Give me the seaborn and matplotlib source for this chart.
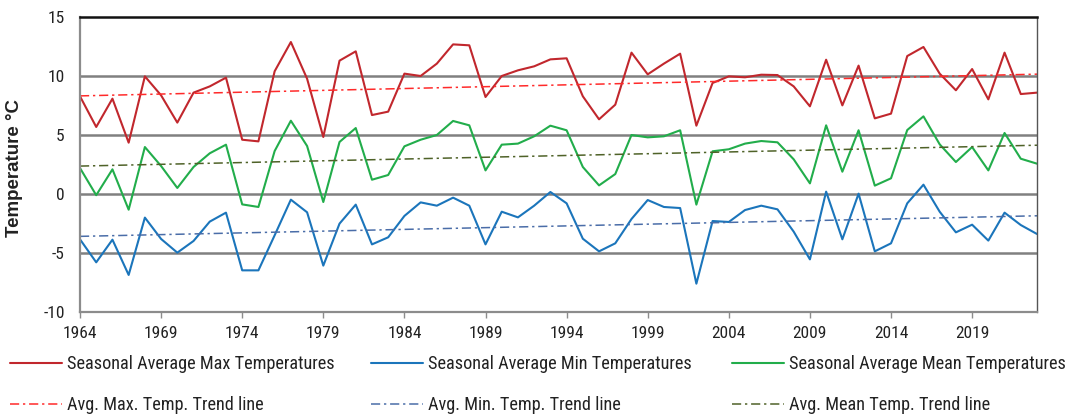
import numpy as np
import pandas as pd
import matplotlib
matplotlib.use("Agg")
import matplotlib.pyplot as plt
from matplotlib import font_manager as fm
from matplotlib.font_manager import FontProperties
import seaborn as sns

years = list(range(1964, 2024))

max_temps = [8.28, 5.68, 8.08, 4.35, 9.97, 8.36, 6.05, 8.59, 9.12, 9.86,
             4.60, 4.46, 10.4, 12.88, 9.77, 4.83, 11.3, 12.09, 6.69, 6.98,
             10.2, 10.0, 11.05, 12.68, 12.6, 8.22, 10.0, 10.48, 10.82, 11.41,
             11.5, 8.28, 6.33, 7.57, 11.98, 10.14, 11.05, 11.89, 5.79, 9.41,
             9.97, 9.89, 10.11, 10.08, 9.12, 7.43, 11.38, 7.51, 10.88, 6.41,
             6.81, 11.69, 12.46, 10.2, 8.79, 10.59, 8.02, 11.98, 8.47, 8.59]

min_temps = [-3.84, -5.79, -3.87, -6.86, -2.0, -3.81, -4.97, -3.98, -2.34, -1.58,
             -6.47, -6.47, -3.5, -0.48, -1.55, -6.07, -2.51, -0.9, -4.27, -3.67,
             -1.86, -0.71, -0.99, -0.31, -0.99, -4.27, -1.5, -1.98, -0.99, 0.17,
             -0.79, -3.79, -4.86, -4.18, -2.12, -0.51, -1.1, -1.19, -7.6, -2.29,
             -2.37, -1.36, -0.99, -1.3, -3.19, -5.54, 0.2, -3.84, 0.03, -4.86,
             -4.18, -0.79, 0.79, -1.5, -3.25, -2.6, -3.95, -1.58, -2.63, -3.39]

mean_temps = [2.2, -0.1, 2.09, -1.33, 3.98, 2.37, 0.51, 2.29, 3.45, 4.18,
              -0.88, -1.1, 3.64, 6.21, 4.07, -0.68, 4.41, 5.59, 1.21, 1.61,
              4.04, 4.6, 5.0, 6.19, 5.82, 2.0, 4.18, 4.27, 4.89, 5.79,
              5.4, 2.29, 0.73, 1.69, 5.0, 4.8, 4.89, 5.4, -0.9, 3.62,
              3.79, 4.27, 4.49, 4.38, 2.94, 0.9, 5.82, 1.89, 5.4, 0.71,
              1.33, 5.42, 6.58, 4.21, 2.71, 3.98, 2.0, 5.17, 2.99, 2.57]

series_labels = ["Seasonal Average Max Temperatures",
                 "Seasonal Average Min Temperatures",
                 "Seasonal Average Mean Temperatures"]
trend_labels = ["Avg. Max. Temp. Trend line",
                "Avg. Min. Temp. Trend line",
                "Avg. Mean Temp. Trend line"]
x_ticks = list(range(1964, 2020, 5))
y_ticks = [-10, -5, 0, 5, 10, 15]

line_colors = ["#C1272D", "#1B75BB", "#22AD4B"]
trend_colors = ["#FF2A2A", "#4A6DA8", "#4F6228"]

sns.set_theme(style="white")
plt.rcParams["font.family"] = ["Liberation Sans", "DejaVu Sans"]


def pick_narrow_font():
    names = {f.name for f in fm.fontManager.ttflist}
    for n in ["Liberation Sans Narrow", "Arial Narrow", "Roboto Condensed",
              "Open Sans Condensed", "Noto Sans Condensed", "DejaVu Sans Condensed"]:
        if n in names:
            return FontProperties(family=n)
    for f in fm.fontManager.ttflist:
        if (str(f.stretch) in ("condensed", "semi-condensed")
                and f.style == "normal" and str(f.weight) in ("400", "normal", "regular")):
            return FontProperties(fname=f.fname)
    return FontProperties(family="Liberation Sans")


df = pd.DataFrame({"year": years, "max": max_temps, "min": min_temps, "mean": mean_temps})

fig = plt.figure(figsize=(10.68, 4.18), dpi=100)
renderer = fig.canvas.get_renderer()


def fitted(fp, text, target_px):
    p = fp.copy()
    p.set_size(10)
    w, h, d = renderer.get_text_width_height_descent(text, p, ismath=False)
    p.set_size(10 * target_px / w)
    return p


base_fp = pick_narrow_font()
legend_fp = fitted(base_fp, series_labels[0], 266)
tick_fp = fitted(base_fp, "1964", 34)

ax = fig.add_axes([80 / 1068, 1 - 312 / 418, (1037 - 80) / 1068, (312 - 17) / 418])

for col, lab, c in zip(["max", "min", "mean"], series_labels, line_colors):
    sns.lineplot(data=df, x="year", y=col, ax=ax, color=c, lw=1.5, label=lab, legend=False)

for col, lab, c in zip(["max", "min", "mean"], trend_labels, trend_colors):
    sns.regplot(data=df, x="year", y=col, ax=ax, scatter=False, ci=None, truncate=True,
                label=lab, line_kws=dict(color=c, lw=1.1, dashes=(6, 2.5, 1.5, 2.5)))

ax.set_xlim(1964, 2023)
ax.set_ylim(-10, 15)
ax.set_xticks(x_ticks)
ax.set_xticklabels([str(t) for t in x_ticks])
ax.set_yticks(y_ticks)
ax.set_yticklabels([str(t) for t in y_ticks])
for lbl in ax.get_xticklabels() + ax.get_yticklabels():
    lbl.set_fontproperties(tick_fp)
    lbl.set_color("#222222")

ax.grid(False)
for yv in [-5, 0, 5, 10]:
    ax.axhline(yv, color="#808080", lw=1.8, zorder=0.5)

for s in ["left", "bottom"]:
    ax.spines[s].set_color("#8C8C8C")
    ax.spines[s].set_linewidth(1.6)
ax.spines["right"].set_color("#555555")
ax.spines["right"].set_linewidth(1.0)
ax.spines["top"].set_color("#111111")
ax.spines["top"].set_linewidth(1.8)

ax.tick_params(axis="x", bottom=True, length=4, width=1, color="#8C8C8C", pad=6)
ax.tick_params(axis="y", left=False, pad=5)

ax.set_xlabel("")
ax.set_ylabel("")
fig.text(15 / 1068, 1 - 168 / 418, "Temperature °C", rotation=90, ha="center", va="center",
         fontsize=13.5, fontweight="bold", family=["Liberation Sans", "DejaVu Sans"], color="#222222")

handles, labels = ax.get_legend_handles_labels()
hmap = dict(zip(labels, handles))

size_px = legend_fp.get_size_in_points() * 100 / 72
col_x = [10, 371, 732]
for i in range(3):
    fig.legend(handles=[hmap[series_labels[i]], hmap[trend_labels[i]]],
               labels=[series_labels[i], trend_labels[i]],
               loc="upper left", bbox_to_anchor=(col_x[i] / 1068, 1 - 355 / 418),
               frameon=False, prop=legend_fp, handlelength=52 / size_px,
               handletextpad=5 / size_px, labelspacing=40 / size_px - 0.91,
               borderpad=0, borderaxespad=0, labelcolor="#222222")

fig.savefig("out.png", dpi=100)
